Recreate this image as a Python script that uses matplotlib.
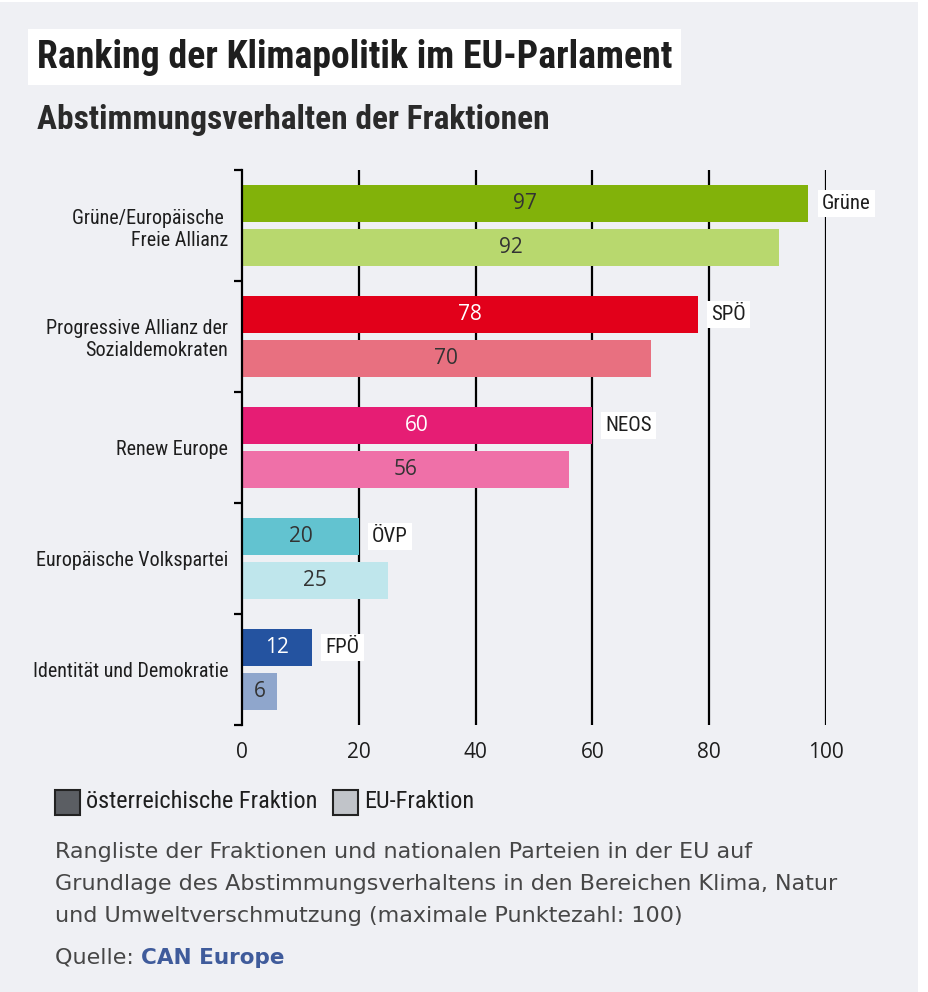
import matplotlib
matplotlib.use("Agg")
import matplotlib.pyplot as plt
from matplotlib.patches import Rectangle
from matplotlib import font_manager

# Daten
groups = ["Grüne/Europäische \nFreie Allianz",
          "Progressive Allianz der\nSozialdemokraten",
          "Renew Europe",
          "Europäische Volkspartei",
          "Identität und Demokratie"]
parties = ["Grüne", "SPÖ", "NEOS", "ÖVP", "FPÖ"]
at_scores = [97, 78, 60, 20, 12]   # österreichische Fraktion
eu_scores = [92, 70, 56, 25, 6]    # EU-Fraktion
x_ticks = [0, 20, 40, 60, 80, 100]

at_colors = ["#82b20a", "#e2001a", "#e61d74", "#62c3d0", "#2453a0"]
eu_colors = ["#b8d86e", "#e87080", "#ef70a8", "#bfe6ec", "#8fa6cc"]
at_text_colors = ["#333333", "white", "white", "#333333", "white"]

legend_labels = ["österreichische Fraktion", "EU-Fraktion"]
note_lines = ["Rangliste der Fraktionen und nationalen Parteien in der EU auf",
              "Grundlage des Abstimmungsverhaltens in den Bereichen Klima, Natur",
              "und Umweltverschmutzung (maximale Punktezahl: 100)"]

# Schriften: schmale Schrift, falls vorhanden
names = {f.name for f in font_manager.fontManager.ttflist}


def pick(*cands):
    return next((c for c in cands if c in names), "DejaVu Sans")


COND = pick("Roboto Condensed", "Liberation Sans Narrow", "Open Sans Condensed", "Roboto")
REG = pick("Open Sans", "Noto Sans", "Roboto")
NOTE = "DejaVu Sans"

W, H = 929, 992
BG = "#eff0f4"
TXT = "#1e1e1e"
GREY = "#464646"


def fx(px):
    return px / W


def fy(py):
    return 1 - py / H


fig = plt.figure(figsize=(W / 100, H / 100), dpi=100)
fig.patch.set_facecolor("white")
fig.patches.append(Rectangle((0, 0), fx(918), fy(2), transform=fig.transFigure,
                             facecolor=BG, edgecolor="none", zorder=-10))

# Titel
fig.text(fx(37), fy(57), "Ranking der Klimapolitik im EU-Parlament", family=COND,
         weight="bold", fontsize=27.2, color=TXT, va="center", ha="left",
         bbox=dict(facecolor="white", edgecolor="none", pad=6.5))
fig.text(fx(37), fy(120), "Abstimmungsverhalten der Fraktionen", family=COND,
         weight="bold", fontsize=24, color="#2a2a2a", va="center", ha="left")

# Balken
ax = fig.add_axes([fx(242), fy(725), (826 - 242) / W, (725 - 170) / H])
ax.set_facecolor("none")
pos = range(len(groups))
ax.barh([i - 0.2 for i in pos], at_scores, height=0.333, color=at_colors, zorder=2)
ax.barh([i + 0.2 for i in pos], eu_scores, height=0.333, color=eu_colors, zorder=2)
ax.set_xlim(0, 100)
ax.set_ylim(len(groups) - 0.5, -0.5)

for x in x_ticks[1:]:
    ax.axvline(x, color="black", lw=1.6, zorder=1)

for s in ["top", "right", "bottom"]:
    ax.spines[s].set_visible(False)
ax.spines["left"].set_linewidth(1.6)
ax.spines["left"].set_zorder(3)

ax.set_yticks([i - 0.5 for i in range(len(groups) + 1)])
ax.set_yticklabels([])
ax.tick_params(axis="y", which="major", length=6, width=1.6, color="black")
ax.set_yticks(list(pos), minor=True)
ax.set_yticklabels(groups, minor=True, family=COND, fontsize=14.5, color=TXT)
ax.tick_params(axis="y", which="minor", length=0, pad=10)

ax.set_xticks(x_ticks)
ax.set_xticklabels([str(t) for t in x_ticks], family=REG, fontsize=15, color=TXT)
ax.tick_params(axis="x", length=0, pad=12)

for i, (a, e) in enumerate(zip(at_scores, eu_scores)):
    ax.text(a / 2, i - 0.2, str(a), ha="center", va="center", family=REG,
            fontsize=15, color=at_text_colors[i], zorder=4)
    ax.text(e / 2, i + 0.2, str(e), ha="center", va="center", family=REG,
            fontsize=15, color="#333333", zorder=4)
    ax.annotate(parties[i], xy=(a, i - 0.2), xytext=(9.5, 0),
                textcoords="offset points", ha="left", va="center", family=COND,
                fontsize=15, color=TXT, annotation_clip=False, zorder=5,
                bbox=dict(facecolor="white", edgecolor="none", pad=3))

# Legende
legend_colors = ["#5b5e63", "#c1c4c9"]
legend_x = [55, 333]
for lx, col, lab in zip(legend_x, legend_colors, legend_labels):
    fig.patches.append(Rectangle((fx(lx), fy(815)), 25 / W, 25 / H,
                                 transform=fig.transFigure, facecolor=col,
                                 edgecolor="#222222", lw=1.5, zorder=2))
    fig.text(fx(lx + 31), fy(802), lab, family=COND, fontsize=17.5, color=TXT,
             va="center", ha="left")

# Anmerkung
for k, line in enumerate(note_lines):
    fig.text(fx(55), fy(852 + 32 * k), line, family=NOTE, fontsize=16,
             color=GREY, va="center", ha="left")

q = fig.text(fx(55), fy(958), "Quelle: ", family=NOTE, fontsize=16, color=GREY,
             va="center", ha="left")
fig.canvas.draw()
bb = q.get_window_extent()
fig.text(bb.x1 / W, fy(958), "CAN Europe", family=NOTE, weight="bold",
         fontsize=15.5, color="#3f5b9b", va="center", ha="left")

fig.savefig("out.png", dpi=100, facecolor=fig.get_facecolor())
